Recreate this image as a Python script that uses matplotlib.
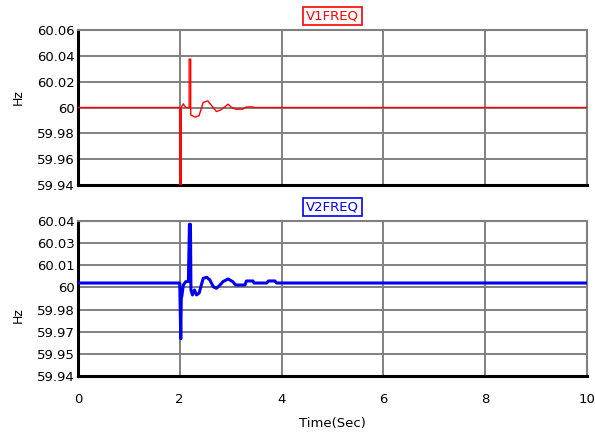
import matplotlib
matplotlib.use("Agg")
import matplotlib.pyplot as plt

plt.rcParams['font.family'] = ['DejaVu Sans']

# V1FREQ (red), time in seconds / frequency in Hz
t1 = [0, 2.0, 2.0, 2.03, 2.03, 2.07, 2.09, 2.12, 2.185, 2.185, 2.215, 2.215,
      2.30, 2.38, 2.46, 2.55, 2.63, 2.72, 2.80, 2.87, 2.95, 3.02, 3.10,
      3.23, 3.31, 3.43, 3.46, 10]
f1 = [60.0, 60.0, 59.93, 59.93, 60.0, 60.0029, 60.0015, 60.0, 60.0, 60.0375, 60.0375, 59.9943,
      59.9926, 59.9937, 60.0039, 60.0052, 60.0013, 59.9969, 59.998, 60.0, 60.0026, 60.0, 59.9987,
      59.9987, 60.0005, 60.0005, 60.0, 60.0]

# V2FREQ (blue)
t2 = [0, 2.0, 2.02, 2.03, 2.04, 2.07, 2.12, 2.17, 2.19, 2.21, 2.22, 2.25,
      2.29, 2.33, 2.38, 2.46, 2.53, 2.59, 2.66, 2.72, 2.79, 2.85, 2.95,
      3.04, 3.10, 3.28, 3.31, 3.44, 3.46, 3.71, 3.74, 3.87, 3.90, 10]
f2 = [60.0, 60.0, 59.964, 59.991, 59.9912, 59.9987, 60.0009, 60.001, 60.0379, 60.0379, 59.9955, 59.9923,
      59.9955, 59.9923, 59.9935, 60.003, 60.0037, 60.002, 59.9976, 59.9966, 59.9987, 60.0009, 60.0026,
      60.0009, 59.9987, 59.9987, 60.0013, 60.0013, 60.0, 60.0, 60.0013, 60.0013, 60.0, 60.0]

yticks1 = [59.94, 59.96, 59.98, 60.0, 60.02, 60.04, 60.06]
ylabels1 = ['59.94', '59.96', '59.98', '60', '60.02', '60.04', '60.06']
yticks2 = [59.94 + i * 0.1 / 7 for i in range(8)]
ylabels2 = ['59.94', '59.95', '59.97', '59.98', '60', '60.01', '60.03', '60.04']
xticks = [0, 2, 4, 6, 8, 10]

fig = plt.figure(figsize=(5.95, 4.33), dpi=100)
ax1 = fig.add_axes([0.131, 0.5727, 0.8555, 0.358])
ax2 = fig.add_axes([0.131, 0.1316, 0.8555, 0.358])

panels = [
    (ax1, t1, f1, '#ff0000', 1.0, 'V1FREQ', yticks1, ylabels1, (59.94, 60.06), 0.568),
    (ax2, t2, f2, '#0000ee', 2.2, 'V2FREQ', yticks2, ylabels2, (59.94, 60.04), 0.394),
]

for ax, t, f, col, lw, name, yt, yl, ylim, hz_y in panels:
    ax.plot(t, f, color=col, lw=lw, zorder=3)
    ax.set_xlim(0, 10)
    ax.set_ylim(*ylim)
    ax.set_yticks(yt)
    ax.set_yticklabels(yl)
    ax.set_xticks(xticks)
    ax.grid(True, color='#808080', lw=1.4)
    ax.tick_params(length=0, labelsize=9.5, pad=2)
    ax.tick_params(axis='x', pad=12)
    for s in ['top', 'right']:
        ax.spines[s].set_color('#808080')
        ax.spines[s].set_linewidth(1.5)
    for s in ['left', 'bottom']:
        ax.spines[s].set_color('black')
        ax.spines[s].set_linewidth(2.2)
    ax.set_ylabel('Hz', fontsize=9)
    ax.yaxis.set_label_coords(-0.105, hz_y)
    ax.text(0.5, 1.05, name, transform=ax.transAxes, ha='center', va='bottom',
            color=col, fontsize=9.5,
            bbox=dict(boxstyle='square,pad=0.2', fc='white', ec=col, lw=1.2))

ax1.set_xticklabels([])
ax2.set_xlabel('Time(Sec)', fontsize=9.5, labelpad=8)

fig.savefig('out.png', dpi=100)
